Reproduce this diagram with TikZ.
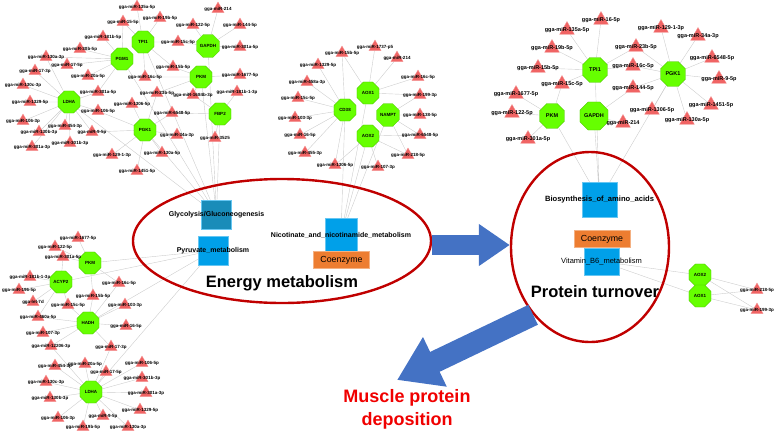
\documentclass[tikz,border=0pt]{standalone}
\usepackage{fontspec}
\setmainfont{Liberation Sans}
\definecolor{mirred}{RGB}{240, 100, 100}
\definecolor{genegreen}{RGB}{102, 255, 0}
\definecolor{linkgray}{RGB}{205, 205, 205}
\definecolor{pathblue}{RGB}{0, 160, 233}
\definecolor{glyteal}{RGB}{25, 140, 185}
\definecolor{coorange}{RGB}{237, 125, 49}
\definecolor{ringred}{RGB}{192, 0, 0}
\definecolor{flowblue}{RGB}{68, 114, 196}
\definecolor{goalred}{RGB}{240, 0, 0}
\usetikzlibrary{shapes.geometric, arrows.meta}
\pgfdeclarelayer{background}
\pgfsetlayers{background,main}

\begin{document}
\begin{tikzpicture}[x=1pt, y=-1pt,
  mirna/.style={regular polygon, regular polygon sides=3, fill=mirred, draw=mirred!70!white, line width=0.3pt, minimum size=14pt, inner sep=0pt,
    label={[font=\fontsize{4.5}{5}\selectfont\bfseries, inner sep=0pt]center:#1}},
  bigmirna/.style={mirna=, minimum size=17pt, label={[font=\fontsize{5.5}{6}\selectfont\bfseries, inner sep=0pt]center:#1}},
  gene/.style={regular polygon, regular polygon sides=8, fill=genegreen, draw=genegreen!75!black, line width=0.3pt, minimum size=24pt, inner sep=0pt, font=\fontsize{4.5}{5}\selectfont\bfseries},
  biggene/.style={gene, minimum size=27pt, font=\fontsize{5.5}{6}\selectfont\bfseries},
  link/.style={draw=linkgray, line width=0.4pt},
  pathbox/.style={rectangle, fill=pathblue, draw=pathblue!60!white, line width=0.3pt, minimum width=30pt, minimum height=29pt, inner sep=0pt},
  pathname/.style={font=\fontsize{7}{8}\selectfont\bfseries, inner sep=0pt},
  coenz/.style={rectangle, fill=coorange, draw=coorange!60!white, line width=0.4pt, minimum width=56pt, minimum height=17pt, inner sep=0pt, font=\fontsize{8.8}{10}\selectfont},
  ring/.style={ellipse, draw=ringred, line width=2.4pt, inner sep=0pt},
  bigname/.style={font=\fontsize{16.5}{18}\selectfont\bfseries}]
  \useasboundingbox (0,0) rectangle (777,445);

  % Glycolysis cluster
  \node[gene] (gPGM1) at (122,59) {PGM1};
  \node[gene] (gTPI1) at (143,42) {TPI1};
  \node[gene] (gGAPDH) at (208,46) {GAPDH};
  \node[gene] (gPKM) at (201,77) {PKM};
  \node[gene] (gLDHA) at (69,102) {LDHA};
  \node[gene] (gPGK1) at (145,130) {PGK1};
  \node[gene] (gFBP2) at (220,114) {FBP2};
  \node[mirna=gga-miR-15-5p] (g1) at (123,22) {};
  \node[mirna=gga-miR-181b-5p] (g2) at (103,37) {};
  \node[mirna=gga-miR-30b-5p] (g3) at (80,49) {};
  \node[mirna=gga-miR-130a-3p] (g4) at (46,57) {};
  \node[mirna=gga-miR-17-5p] (g5) at (67,65) {};
  \node[mirna=gga-miR-17-3p] (g6) at (35,71) {};
  \node[mirna=gga-miR-20a-5p] (g7) at (88,76) {};
  \node[mirna=gga-miR-130c-3p] (g8) at (23,85) {};
  \node[mirna=gga-miR-301a-5p] (g9) at (98,92) {};
  \node[mirna=gga-miR-1329-5p] (g10) at (30,102) {};
  \node[mirna=gga-miR-1306-5p] (g11) at (132,104) {};
  \node[mirna=gga-miR-106-5p] (g12) at (98,111) {};
  \node[mirna=gga-miR-106-3p] (g13) at (23,121) {};
  \node[mirna=gga-miR-454-3p] (g14) at (65,126) {};
  \node[mirna=gga-miR-9-5p] (g15) at (92,132) {};
  \node[mirna=gga-miR-130b-3p] (g16) at (39,132) {};
  \node[mirna=gga-miR-301b-3p] (g17) at (70,143) {};
  \node[mirna=gga-miR-301a-3p] (g18) at (32,147) {};
  \node[mirna=gga-miR-129-1-3p] (g19) at (112,155) {};
  \node[mirna=gga-miR-1451-5p] (g20) at (137,171) {};
  \node[mirna=gga-miR-23b-5p] (g21) at (157,93) {};
  \node[mirna=gga-miR-1684b-3p] (g22) at (193,95) {};
  \node[mirna=gga-miR-181b-1-3p] (g23) at (237,92) {};
  \node[mirna=gga-miR-6548-5p] (g24) at (172,113) {};
  \node[mirna=gga-miR-34a-3p] (g25) at (177,135) {};
  \node[mirna=gga-miR-3525] (g26) at (215,138) {};
  \node[mirna=gga-miR-130a-5p] (g27) at (162,153) {};
  \node[mirna=gga-miR-135a-5p] (g28) at (137,7) {};
  \node[mirna=gga-miR-19b-5p] (g29) at (160,18) {};
  \node[mirna=gga-miR-214] (g30) at (218,9) {};
  \node[mirna=gga-miR-122-5p] (g31) at (193,25) {};
  \node[mirna=gga-miR-144-5p] (g32) at (240,25) {};
  \node[mirna=gga-miR-15c-5p] (g33) at (178,42) {};
  \node[mirna=gga-miR-301a-5p] (g34) at (240,47) {};
  \node[mirna=gga-miR-15b-5p] (g35) at (173,67) {};
  \node[mirna=gga-miR-1677-5p] (g36) at (240,75) {};
  \node[mirna=gga-miR-16c-5p] (g37) at (145,77) {};

  % Nicotinate cluster
  \node[gene] (nCD38) at (345,110) {CD38};
  \node[gene] (nAOX1) at (368,93) {AOX1};
  \node[gene] (nNAMPT) at (388,115) {NAMPT};
  \node[gene] (nAOX2) at (368,136) {AOX2};
  \node[mirna=gga-miR-15b-5p] (n1) at (342,53) {};
  \node[mirna=gga-miR-1737-p5] (n2) at (375,47) {};
  \node[mirna=gga-miR-1329-5p] (n3) at (318,65) {};
  \node[mirna=gga-miR-214] (n4) at (397,58) {};
  \node[mirna=gga-miR-458a-3p] (n5) at (307,82) {};
  \node[mirna=gga-miR-16c-5p] (n6) at (418,77) {};
  \node[mirna=gga-miR-15c-5p] (n7) at (298,98) {};
  \node[mirna=gga-miR-199-3p] (n8) at (420,95) {};
  \node[mirna=gga-miR-103-3p] (n9) at (295,118) {};
  \node[mirna=gga-miR-138-5p] (n10) at (420,115) {};
  \node[mirna=gga-miR-16-5p] (n11) at (300,135) {};
  \node[mirna=gga-miR-6548-5p] (n12) at (420,135) {};
  \node[mirna=gga-miR-455-3p] (n13) at (305,153) {};
  \node[mirna=gga-miR-218-5p] (n14) at (408,155) {};
  \node[mirna=gga-miR-1306-5p] (n15) at (335,165) {};
  \node[mirna=gga-miR-107-3p] (n16) at (378,167) {};

  % Amino acid cluster
  \node[biggene] (bTPI1) at (595,70) {TPI1};
  \node[biggene] (bPGK1) at (673,74) {PGK1};
  \node[biggene] (bPKM) at (552,116) {PKM};
  \node[biggene] (bGAPDH) at (594,116) {GAPDH};
  \node[bigmirna=gga-miR-16-5p] (b1) at (601,20) {};
  \node[bigmirna=gga-miR-135a-5p] (b2) at (567,30) {};
  \node[bigmirna=gga-miR-19b-5p] (b3) at (552,48) {};
  \node[bigmirna=gga-miR-15b-5p] (b4) at (538,68) {};
  \node[bigmirna=gga-miR-15c-5p] (b5) at (562,84) {};
  \node[bigmirna=gga-miR-1677-5p] (b6) at (516,94) {};
  \node[bigmirna=gga-miR-122-5p] (b7) at (512,113) {};
  \node[bigmirna=gga-miR-301a-5p] (b8) at (528,139) {};
  \node[bigmirna=gga-miR-129-1-3p] (b9) at (661,28) {};
  \node[bigmirna=gga-miR-34a-3p] (b10) at (698,36) {};
  \node[bigmirna=gga-miR-23b-5p] (b11) at (636,47) {};
  \node[bigmirna=gga-miR-6548-5p] (b12) at (712,58) {};
  \node[bigmirna=gga-miR-16c-5p] (b13) at (633,66) {};
  \node[bigmirna=gga-miR-9-5p] (b14) at (719,79) {};
  \node[bigmirna=gga-miR-144-5p] (b15) at (633,88) {};
  \node[bigmirna=gga-miR-1306-5p] (b16) at (652,110) {};
  \node[bigmirna=gga-miR-1451-5p] (b17) at (711,105) {};
  \node[bigmirna=gga-miR-214] (b18) at (623,123) {};
  \node[bigmirna=gga-miR-130a-5p] (b19) at (687,120) {};

  % Pyruvate cluster
  \node[gene] (pPKM) at (90,263) {PKM};
  \node[gene] (pACYP2) at (61,282) {ACYP2};
  \node[gene] (pHADH) at (88,323) {HADH};
  \node[gene] (pLDHA) at (91,392) {LDHA};
  \node[mirna=gga-miR-1677-5p] (p1) at (78,238) {};
  \node[mirna=gga-miR-122-5p] (p2) at (55,247) {};
  \node[mirna=gga-miR-301a-5p] (p3) at (63,257) {};
  \node[mirna=gga-miR-181b-1-3p] (p4) at (30,277) {};
  \node[mirna=gga-miR-196-5p] (p5) at (19,290) {};
  \node[mirna=gga-miR-16c-5p] (p6) at (119,283) {};
  \node[mirna=gga-miR-15b-5p] (p7) at (93,296) {};
  \node[mirna=gga-let-7d] (p8) at (33,302) {};
  \node[mirna=gga-miR-15c-5p] (p9) at (68,305) {};
  \node[mirna=gga-miR-103-3p] (p10) at (125,305) {};
  \node[mirna=gga-miR-460a-5p] (p11) at (38,317) {};
  \node[mirna=gga-miR-16-5p] (p12) at (126,326) {};
  \node[mirna=gga-miR-107-3p] (p13) at (43,333) {};
  \node[mirna=gga-miR-12206-3p] (p14) at (51,346) {};
  \node[mirna=gga-miR-17-3p] (p15) at (111,347) {};
  \node[mirna=gga-miR-454-3p] (p16) at (55,366) {};
  \node[mirna=gga-miR-20a-5p] (p17) at (85,364) {};
  \node[mirna=gga-miR-106-5p] (p18) at (142,363) {};
  \node[mirna=gga-miR-17-5p] (p19) at (106,372) {};
  \node[mirna=gga-miR-301b-3p] (p20) at (142,378) {};
  \node[mirna=gga-miR-130c-3p] (p21) at (46,382) {};
  \node[mirna=gga-miR-301a-3p] (p22) at (146,393) {};
  \node[mirna=gga-miR-130b-3p] (p23) at (50,398) {};
  \node[mirna=gga-miR-1329-5p] (p24) at (140,410) {};
  \node[mirna=gga-miR-106-3p] (p25) at (58,418) {};
  \node[mirna=gga-miR-9-5p] (p26) at (103,416) {};
  \node[mirna=gga-miR-19b-5p] (p27) at (83,427) {};
  \node[mirna=gga-miR-130a-3p] (p28) at (128,427) {};

  % Vitamin B6 cluster
  \node[gene] (aAOX2) at (700,275) {AOX2};
  \node[gene] (aAOX1) at (700,296) {AOX1};
  \node[mirna=gga-miR-218-5p] (a1) at (757,290) {};
  \node[mirna=gga-miR-199-3p] (a2) at (757,310) {};

  % Pathways
  \node[pathbox, fill=glyteal, label={[pathname]center:Glycolysis/Gluconeogenesis}] (gly) at (216.5,214.5) {};
  \node[pathbox, label={[pathname]center:Pyruvate\_metabolism}] (pyr) at (213,250.5) {};
  \node[pathbox, minimum width=32pt, minimum height=34pt, label={[pathname]center:Nicotinate\_and\_nicotinamide\_metabolism}] (nic) at (341,235) {};
  \node[coenz] (coL) at (341.5,260) {Coenzyme};
  \node[pathbox, minimum width=35pt, minimum height=35pt, label={[pathname, font=\fontsize{7.6}{8}\selectfont\bfseries]center:Biosynthesis\_of\_amino\_acids}] (bio) at (599.5,199.5) {};
  \node[coenz] (coR) at (602,239) {Coenzyme};
  \node[pathbox, minimum width=35pt, minimum height=27pt, label={[pathname, font=\fontsize{7.5}{8}\selectfont]center:Vitamin\_B6\_metabolism}] (vit) at (601.5,261.5) {};

  % Groups
  \node[ring, minimum width=298pt, minimum height=124pt] (energy) at (282,241) {};
  \node[bigname] (energyname) at (282,283) {Energy metabolism};
  \node[ring, minimum width=158pt, minimum height=190pt] (protein) at (590,247) {};
  \node[bigname] (proteinname) at (595,292) {Protein turnover};
  \node[font=\fontsize{18}{23}\selectfont\bfseries, text=goalred, align=center] (goal) at (407,409) {Muscle protein\\deposition};
  \coordinate (tip) at (397,380);

  \draw[flowblue, line width=20pt, -{Triangle[width=40pt,length=31pt]}] ([yshift=-4pt]energy.east) -- ([yshift=2pt]protein.west);
  \draw[flowblue, line width=22pt, -{Triangle[width=52pt,length=42pt]}] (protein.230) -- (tip);

  \begin{pgfonlayer}{background}
    % glycolysis links
    \draw[link] (gPGM1) -- (g1) (gPGM1) -- (g2) (gPGM1) -- (g3) (gPGM1) -- (g4) (gPGM1) -- (g5) (gPGM1) -- (g7) (gPGM1) -- (g9);
    \draw[link] (gLDHA) -- (g4) (gLDHA) -- (g6) (gLDHA) -- (g8) (gLDHA) -- (g9) (gLDHA) -- (g10) (gLDHA) -- (g12) (gLDHA) -- (g13)
      (gLDHA) -- (g14) (gLDHA) -- (g15) (gLDHA) -- (g16) (gLDHA) -- (g17) (gLDHA) -- (g18);
    \draw[link] (gTPI1) -- (g1) (gTPI1) -- (g28) (gTPI1) -- (g29) (gTPI1) -- (g33) (gTPI1) -- (g35) (gTPI1) -- (g37);
    \draw[link] (gGAPDH) -- (g30) (gGAPDH) -- (g31) (gGAPDH) -- (g32) (gGAPDH) -- (g33) (gGAPDH) -- (g34);
    \draw[link] (gPKM) -- (g35) (gPKM) -- (g36) (gPKM) -- (g37) (gPKM) -- (g21) (gPKM) -- (g22);
    \draw[link] (gPGK1) -- (g11) (gPGK1) -- (g12) (gPGK1) -- (g15) (gPGK1) -- (g19) (gPGK1) -- (g20) (gPGK1) -- (g21)
      (gPGK1) -- (g24) (gPGK1) -- (g25) (gPGK1) -- (g27);
    \draw[link] (gFBP2) -- (g22) (gFBP2) -- (g23) (gFBP2) -- (g24) (gFBP2) -- (g26);
    \draw[link] (gPGM1) -- (gly) (gTPI1) -- (gly) (gGAPDH) -- (gly) (gPKM) -- (gly) (gLDHA) -- (gly) (gPGK1) -- (gly) (gFBP2) -- (gly);
    % nicotinate links
    \draw[link] (nCD38) -- (n1) (nCD38) -- (n3) (nCD38) -- (n5) (nCD38) -- (n7) (nCD38) -- (n9) (nCD38) -- (n11) (nCD38) -- (n13) (nCD38) -- (n15);
    \draw[link] (nAOX1) -- (n1) (nAOX1) -- (n2) (nAOX1) -- (n4) (nAOX1) -- (n6) (nAOX1) -- (n8);
    \draw[link] (nNAMPT) -- (n8) (nNAMPT) -- (n10) (nNAMPT) -- (n12) (nNAMPT) -- (n14);
    \draw[link] (nAOX2) -- (n12) (nAOX2) -- (n14) (nAOX2) -- (n15) (nAOX2) -- (n16);
    \draw[link] (nCD38) -- (nic) (nAOX1) -- (nic) (nNAMPT) -- (nic) (nAOX2) -- (nic);
    % amino acid links
    \draw[link] (bTPI1) -- (b1) (bTPI1) -- (b2) (bTPI1) -- (b3) (bTPI1) -- (b4) (bTPI1) -- (b5) (bTPI1) -- (b11) (bTPI1) -- (b13);
    \draw[link] (bPGK1) -- (b9) (bPGK1) -- (b10) (bPGK1) -- (b11) (bPGK1) -- (b12) (bPGK1) -- (b13) (bPGK1) -- (b14)
      (bPGK1) -- (b15) (bPGK1) -- (b16) (bPGK1) -- (b17) (bPGK1) -- (b19);
    \draw[link] (bPKM) -- (b5) (bPKM) -- (b6) (bPKM) -- (b7) (bPKM) -- (b8);
    \draw[link] (bGAPDH) -- (b15) (bGAPDH) -- (b18);
    \draw[link] (bTPI1) -- (bio) (bPGK1) -- (bio) (bPKM) -- (bio) (bGAPDH) -- (bio);
    % pyruvate links
    \draw[link] (pPKM) -- (p1) (pPKM) -- (p2) (pPKM) -- (p3) (pPKM) -- (p6) (pPKM) -- (p7);
    \draw[link] (pACYP2) -- (p3) (pACYP2) -- (p4) (pACYP2) -- (p5) (pACYP2) -- (p8) (pACYP2) -- (p9) (pACYP2) -- (p11);
    \draw[link] (pHADH) -- (p6) (pHADH) -- (p7) (pHADH) -- (p9) (pHADH) -- (p10) (pHADH) -- (p11) (pHADH) -- (p12)
      (pHADH) -- (p13) (pHADH) -- (p14) (pHADH) -- (p15);
    \draw[link] (pLDHA) -- (p14) (pLDHA) -- (p15) (pLDHA) -- (p16) (pLDHA) -- (p17) (pLDHA) -- (p18) (pLDHA) -- (p19) (pLDHA) -- (p20)
      (pLDHA) -- (p21) (pLDHA) -- (p22) (pLDHA) -- (p23) (pLDHA) -- (p24) (pLDHA) -- (p25) (pLDHA) -- (p26) (pLDHA) -- (p27) (pLDHA) -- (p28);
    \draw[link] (pPKM) -- (pyr) (pACYP2) -- (pyr) (pHADH) -- (pyr) (pLDHA) -- (pyr);
    % vitamin B6 links
    \draw[link] (aAOX2) -- (a1) (aAOX2) -- (a2) (aAOX1) -- (a1) (aAOX1) -- (a2) (vit) -- (aAOX2) (vit) -- (aAOX1);
  \end{pgfonlayer}
\end{tikzpicture}
\end{document}
